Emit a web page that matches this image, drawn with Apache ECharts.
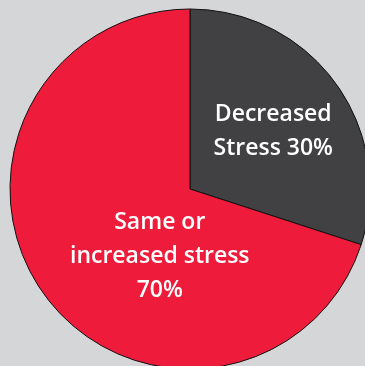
<!DOCTYPE html>
<html><head><meta charset="utf-8">
<script src="https://cdn.jsdelivr.net/npm/echarts@6/dist/echarts.min.js"></script>
<style>html,body{margin:0;padding:0;background:#D5D6D8;}#c{width:365px;height:366px;}</style>
</head><body><div id="c"></div>
<script>
var categories = ['Decreased Stress', 'Same or increased stress'];
var values = [30, 70];
var labelTexts = ['Decreased\nStress 30%', 'Same or\nincreased stress\n70%'];
var colors = ['#414042', '#EE1C3A'];
var labelShift = [[8, -3], [45, 13]];

var chart = echarts.init(document.getElementById('c'), null, {renderer: 'canvas'});
chart.setOption({
  backgroundColor: '#D5D6D8',
  animation: false,
  series: [{
    type: 'pie',
    center: [190, 189],
    radius: [0, 180],
    startAngle: 90,
    clockwise: true,
    silent: true,
    itemStyle: {borderColor: '#111', borderWidth: 1},
    label: {
      show: true,
      position: 'inside',
      color: '#fff',
      fontFamily: 'Open Sans',
      fontWeight: 600,
      fontSize: 23,
      lineHeight: 34,
      align: 'center'
    },
    labelLine: {show: false},
    labelLayout: function (p) {
      return {dx: labelShift[p.dataIndex][0], dy: labelShift[p.dataIndex][1]};
    },
    data: categories.map(function (c, i) {
      return {
        name: c,
        value: values[i],
        itemStyle: {color: colors[i]},
        label: {formatter: labelTexts[i]}
      };
    })
  }]
});
</script></body></html>
